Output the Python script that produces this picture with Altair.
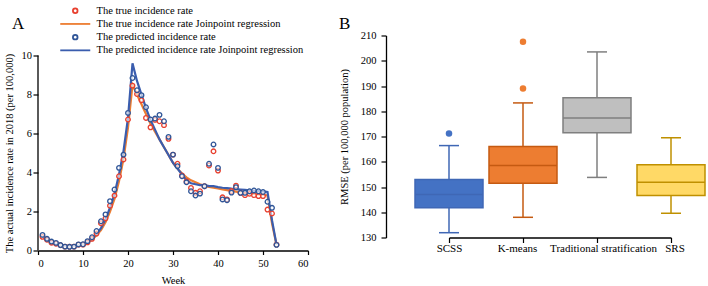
import altair as alt
import pandas as pd

# ---------------- Panel A data ----------------
weeks = list(range(1, 54))
true_rate = [0.70, 0.55, 0.40, 0.35, 0.27, 0.20, 0.20, 0.20, 0.30, 0.30,
             0.42, 0.60, 0.87, 1.40, 1.65, 2.30, 2.82, 3.81, 4.67, 6.72,
             8.46, 8.03, 7.71, 6.80, 6.32, 6.70, 6.63, 6.43, 5.73, 4.92,
             4.45, 3.85, 3.55, 3.21, 2.96, 3.04, 3.30, 4.36, 5.09, 4.10,
             2.73, 2.62, 3.05, 3.33, 2.96, 2.84, 2.91, 2.84, 2.79, 2.79,
             2.10, 1.90, 0.30]
pred_rate = [0.80, 0.60, 0.46, 0.39, 0.28, 0.20, 0.19, 0.20, 0.31, 0.32,
             0.48, 0.68, 1.00, 1.50, 1.85, 2.53, 3.13, 4.24, 4.92, 7.06,
             8.85, 8.22, 7.97, 7.35, 6.72, 6.77, 6.96, 6.63, 5.83, 4.92,
             4.33, 3.81, 3.50, 3.04, 2.82, 2.92, 3.30, 4.45, 5.44, 4.24,
             2.62, 2.58, 2.97, 3.25, 2.96, 2.96, 3.04, 3.08, 3.04, 3.00,
             2.50, 2.19, 0.29]
true_jp = [0.70, 0.52, 0.40, 0.32, 0.26, 0.22, 0.21, 0.22, 0.26, 0.32,
           0.42, 0.55, 0.78, 1.05, 1.45, 2.00, 2.65, 3.55, 4.70, 6.30,
           8.50, 8.00, 7.50, 7.00, 6.50, 6.10, 5.70, 5.30, 4.90, 4.50,
           4.20, 3.95, 3.75, 3.60, 3.50, 3.40, 3.32, 3.26, 3.22, 3.18,
           3.14, 3.10, 3.06, 3.02, 2.98, 2.95, 2.92, 2.90, 2.88, 2.86,
           2.82, 1.40, 0.30]
pred_jp = [0.75, 0.55, 0.42, 0.33, 0.27, 0.23, 0.22, 0.24, 0.28, 0.35,
           0.45, 0.60, 0.85, 1.15, 1.60, 2.20, 2.90, 3.90, 5.10, 6.80,
           9.60, 8.70, 8.00, 7.30, 6.70, 6.20, 5.70, 5.30, 4.90, 4.50,
           4.20, 3.90, 3.60, 3.45, 3.40, 3.35, 3.35, 3.30, 3.30, 3.25,
           3.22, 3.20, 3.17, 3.15, 3.13, 3.11, 3.09, 3.07, 3.05, 3.03,
           3.00, 1.55, 0.30]
y_ticks_A = [0, 2, 4, 6, 8, 10]
x_ticks_A = [0, 10, 20, 30, 40, 50, 60]

series_names = ["The true incidence rate",
                "The true incidence rate Joinpoint regression",
                "The predicted incidence rate",
                "The predicted incidence rate Joinpoint regression"]
series_colors = ["#E8402F", "#ED7D31", "#2F5597", "#3A5DAE"]
circle_path = "M-2.3,0A2.3,2.3,0,1,1,2.3,0A2.3,2.3,0,1,1,-2.3,0Z"
line_path = "M-15,0L15,0"
series_shapes = [circle_path, line_path, circle_path, line_path]

# ---------------- Panel B data ----------------
methods = ["SCSS", "K-means", "Traditional stratification", "SRS"]
whisker_low = [131.9, 138.0, 153.8, 139.6]
q1 = [141.8, 151.5, 171.5, 146.6]
medians = [147.0, 158.5, 177.3, 151.9]
q3 = [153.0, 166.0, 185.3, 158.8]
whisker_high = [166.4, 183.3, 203.5, 169.5]
outlier_method = ["SCSS", "K-means", "K-means"]
outlier_value = [171.2, 207.5, 189.0]
y_ticks_B = [130, 140, 150, 160, 170, 180, 190, 200, 210]
box_fills = ["#4472C4", "#ED7D31", "#BFBFBF", "#FFD966"]
box_strokes = ["#3F67B5", "#C55A11", "#7F7F7F", "#BF9000"]

FONT = "Liberation Serif"

pts = pd.DataFrame({
    "week": weeks * 2,
    "value": true_rate + pred_rate,
    "series": [series_names[0]] * len(weeks) + [series_names[2]] * len(weeks),
})
lines = pd.DataFrame({
    "week": weeks * 2,
    "value": true_jp + pred_jp,
    "series": [series_names[1]] * len(weeks) + [series_names[3]] * len(weeks),
})
yaxis_line = pd.DataFrame({"week": [x_ticks_A[0]], "lo": [y_ticks_A[0]], "hi": [y_ticks_A[-1]]})

color_scale = alt.Scale(domain=series_names, range=series_colors)
shape_scale = alt.Scale(domain=series_names, range=series_shapes)

xA = alt.X("week:Q", scale=alt.Scale(domain=[0, 60], nice=False),
           axis=alt.Axis(values=x_ticks_A, title="Week",
                         grid=False, tickSize=4, labelPadding=3.5, titlePadding=6.5))
yscaleA = alt.Scale(domain=[0, 11.03], nice=False)
yA = alt.Y("value:Q", scale=yscaleA,
           axis=alt.Axis(values=y_ticks_A, domain=False, labelOverlap=False,
                         title="The actual incidence rate in 2018 (per 100,000)",
                         titleY=117.5, titleAnchor="middle",
                         grid=False, tickSize=5, labelPadding=1.5, titlePadding=7))

legend = alt.Legend(title=None, orient="none", legendX=32, legendY=-30,
                    symbolSize=4, symbolStrokeWidth=1.8, labelOffset=16,
                    labelFont=FONT, labelFontSize=10.5, labelColor="black",
                    rowPadding=1.2, padding=0, labelLimit=400)

axis_rule = alt.Chart(yaxis_line).mark_rule(color="black", strokeWidth=1.3).encode(
    x=alt.X("week:Q"), y=alt.Y("lo:Q"), y2="hi:Q")
line_layer = alt.Chart(lines).mark_line(strokeWidth=2.2).encode(
    x=xA, y=yA,
    color=alt.Color("series:N", scale=color_scale, legend=legend),
    detail="series:N",
)
point_layer = alt.Chart(pts).mark_point(filled=False, fill="white", fillOpacity=0.6,
                                        strokeWidth=1.3, size=4, opacity=1).encode(
    x=xA, y=yA,
    color=alt.Color("series:N", scale=color_scale, legend=legend),
    shape=alt.Shape("series:N", scale=shape_scale, legend=legend),
)
label_A = alt.Chart(pd.DataFrame({"t": ["A"]})).mark_text(
    font=FONT, fontSize=17, align="left", baseline="middle", color="black"
).encode(text="t:N", x=alt.value(-26), y=alt.value(-12))

panelA = alt.layer(line_layer, point_layer, axis_rule, label_A).properties(width=270, height=215)

# ---------------- Panel B ----------------
box = pd.DataFrame({"method": methods, "lo": whisker_low, "q1": q1, "med": medians,
                    "q3": q3, "hi": whisker_high})
outl = pd.DataFrame({"method": outlier_method, "value": outlier_value})

label_shift = {"condition": [
    {"test": "datum.value == 'K-means'", "value": -6},
    {"test": "datum.value == 'Traditional stratification'", "value": 6},
    {"test": "datum.value == 'SRS'", "value": 3.5},
], "value": 0}

xB = alt.X("method:N", sort=methods,
           scale=alt.Scale(type="point", domain=methods, range=[63, 285], padding=0),
           axis=alt.Axis(title=None, labelAngle=0, labelOverlap=False, labelLimit=300,
                         tickSize=5, labelPadding=0, labelFontSize=11,
                         labelOffset=label_shift))
yScaleB = alt.Scale(domain=[130, 210], nice=False)
yAxisB = alt.Axis(values=y_ticks_B, title="RMSE (per 100,000 population)", labelOverlap=False,
                  grid=False, tickSize=5, labelPadding=5, titlePadding=11)
fill_enc = alt.Fill("method:N", scale=alt.Scale(domain=methods, range=box_fills), legend=None)
stroke_enc = alt.Stroke("method:N", scale=alt.Scale(domain=methods, range=box_strokes), legend=None)
color_stroke = alt.Color("method:N", scale=alt.Scale(domain=methods, range=box_strokes), legend=None)
color_fill = alt.Color("method:N", scale=alt.Scale(domain=methods, range=box_fills), legend=None)


def yB(field):
    return alt.Y(field, scale=yScaleB, axis=yAxisB)


whisk = alt.Chart(box).mark_rule(strokeWidth=1.5).encode(
    x=xB, y=yB("lo:Q"), y2="hi:Q", color=color_stroke)
cap_lo = alt.Chart(box).mark_tick(size=20, thickness=1.5, opacity=1).encode(
    x=xB, y=yB("lo:Q"), color=color_stroke)
cap_hi = alt.Chart(box).mark_tick(size=20, thickness=1.5, opacity=1).encode(
    x=xB, y=yB("hi:Q"), color=color_stroke)
boxes = alt.Chart(box).mark_bar(size=68, strokeWidth=1.5).encode(
    x=xB, y=yB("q1:Q"), y2="q3:Q", fill=fill_enc, stroke=stroke_enc)
med = alt.Chart(box).mark_tick(size=68, thickness=1.5, opacity=1).encode(
    x=xB, y=yB("med:Q"), color=color_stroke)
outs = alt.Chart(outl).mark_circle(size=42, opacity=1).encode(
    x=xB, y=yB("value:Q"), color=color_fill)
label_B = alt.Chart(pd.DataFrame({"t": ["B"]})).mark_text(
    font=FONT, fontSize=17, align="left", baseline="middle", color="black"
).encode(text="t:N", x=alt.value(-47), y=alt.value(-12))

panelB = alt.layer(whisk, cap_lo, cap_hi, boxes, med, outs, label_B).resolve_scale(
    color="independent").properties(width=311, height=202)

chart = alt.hconcat(panelA, panelB, spacing=30).properties(
    padding={"left": 4, "top": 5.5, "right": 0, "bottom": 0},
    background="white",
).configure_view(stroke=None).configure_axis(
    labelFont=FONT, titleFont=FONT, labelFontSize=10.5, titleFontSize=10.5,
    titleFontWeight="normal", labelColor="black", titleColor="black",
    domainColor="black", domainWidth=1.3, tickColor="black", tickWidth=1.2,
)

chart.save("out.html", embed_options={"renderer": "svg", "actions": False})
